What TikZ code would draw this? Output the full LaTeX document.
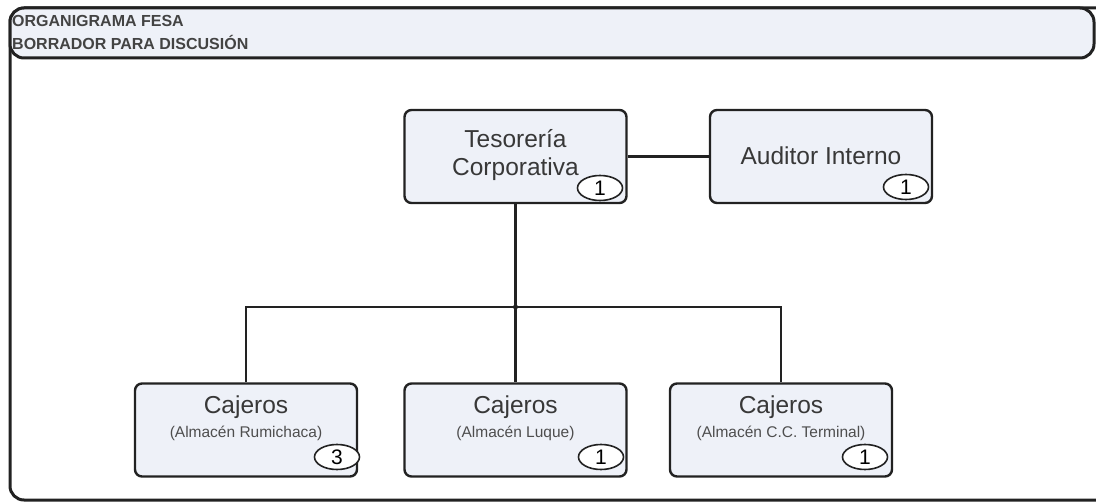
\documentclass[tikz,border=0pt]{standalone}
\usepackage{fontspec}
\setmainfont{Liberation Sans}
\usetikzlibrary{shapes.geometric}
\definecolor{boxfill}{HTML}{EEF1F8}
\definecolor{linec}{HTML}{222222}
\begin{document}
\begin{tikzpicture}[x=1pt,y=-1pt,
  orgbox/.style={draw=linec,line width=2.4pt,fill=boxfill,rounded corners=7pt,minimum width=222pt,minimum height=93pt,inner sep=0pt},
  badge/.style={draw=linec,line width=1.6pt,fill=white,ellipse,minimum width=45pt,minimum height=25pt,inner sep=0pt,font=\fontsize{21}{21}\selectfont},
  conn/.style={draw=linec,line width=2.2pt},
  maintext/.style={font=\fontsize{24.5}{28}\selectfont,text=linec!90,align=center},
  subtext/.style={font=\fontsize{15.5}{17}\selectfont,text=linec!80,align=center}
]
\useasboundingbox (0,0) rectangle (1096,503);
% outer frame
\draw[draw=linec,line width=3pt,rounded corners=14pt] (1110,8) -- (10,8) -- (10,500) -- (1110,500);
% header band
\path[draw=linec,line width=3pt,fill=boxfill,rounded corners=14pt] (10,8) rectangle (1094,58);
\node[anchor=north west,inner sep=0pt,font=\bfseries\fontsize{16}{23}\selectfont,text=linec!85,align=left] (hdr) at (12,15) {ORGANIGRAMA FESA\\BORRADOR PARA DISCUSIÓN};

% nodes
\node[orgbox] (tes) at (515.5,156.5) {};
\node[maintext] (testxt) at (515.5,155) {Tesorería\\Corporativa};
\node[badge] (tesb) at (600,188) {1};

\node[orgbox] (aud) at (821,156.5) {};
\node[maintext] (audtxt) at (821,156) {Auditor Interno};
\node[badge] (audb) at (906,187) {1};

\node[orgbox] (c1) at (246,430) {};
\node[maintext,anchor=base] (c1t) at (246,413) {Cajeros};
\node[subtext,anchor=base] (c1s) at (246,437) {(Almacén Rumichaca)};
\node[badge] (c1b) at (337,457) {3};

\node[orgbox] (c2) at (515.5,430) {};
\node[maintext,anchor=base] (c2t) at (515.5,413) {Cajeros};
\node[subtext,anchor=base] (c2s) at (515.5,437) {(Almacén Luque)};
\node[badge] (c2b) at (601,457) {1};

\node[orgbox] (c3) at (781,430) {};
\node[maintext,anchor=base] (c3t) at (781,413) {Cajeros};
\node[subtext,anchor=base] (c3s) at (781,437) {(Almacén C.C. Terminal)};
\node[badge] (c3b) at (865,457) {1};

% connectors
\coordinate (j) at (515.5,307);
\draw[conn] (tes.east) -- (aud.west);
\draw[conn] (tes.south) -- (j);
\draw[conn] (j) -| (c1.north);
\draw[conn] (j) -- (c2.north);
\draw[conn] (j) -| (c3.north);
\fill[linec] (j) circle (2.5pt);
\end{tikzpicture}
\end{document}
